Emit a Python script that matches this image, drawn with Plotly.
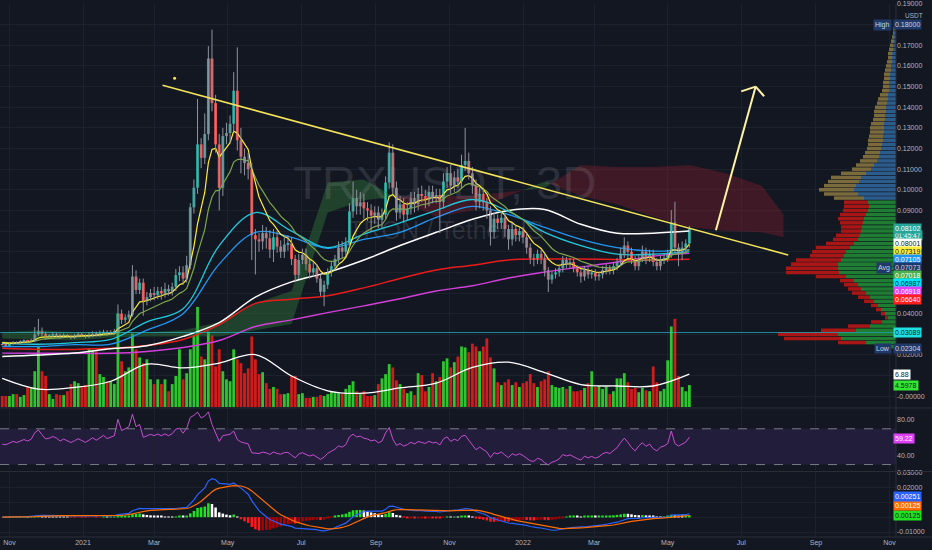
import numpy as np
import pandas as pd
import plotly.graph_objects as go

# ---------------- DATA ----------------
START = pd.Timestamp('2020-10-26')
STEP = pd.Timedelta(days=3)
first_open = 0.0252
closes = [0.0250, 0.0248, 0.0255, 0.0262, 0.0258, 0.0265, 0.0270, 0.0266, 0.0272, 0.0300,
          0.0315, 0.0302, 0.0290, 0.0293, 0.0300, 0.0296, 0.0288, 0.0295, 0.0290, 0.0286,
          0.0292, 0.0298, 0.0294, 0.0290, 0.0296, 0.0303, 0.0298, 0.0306, 0.0312, 0.0306,
          0.0310, 0.0314, 0.0400, 0.0370, 0.0382, 0.0395, 0.0580, 0.0515, 0.0550, 0.0460,
          0.0480, 0.0500, 0.0490, 0.0510, 0.0498, 0.0520, 0.0508, 0.0530, 0.0587, 0.0600,
          0.0570, 0.0635, 0.0915, 0.1010, 0.1220, 0.1155, 0.1270, 0.1636, 0.1420, 0.1220,
          0.1010, 0.1260, 0.1275, 0.1320, 0.1480, 0.1240, 0.1160, 0.1130, 0.1100, 0.0780,
          0.0760, 0.0750, 0.0790, 0.0765, 0.0710, 0.0770, 0.0725, 0.0700, 0.0735, 0.0740,
          0.0665, 0.0588, 0.0660, 0.0685, 0.0640, 0.0600, 0.0620, 0.0570, 0.0506, 0.0540,
          0.0600, 0.0630, 0.0665, 0.0720, 0.0700, 0.0740, 0.0895, 0.0960, 0.0920, 0.0940,
          0.0910, 0.0900, 0.0875, 0.0890, 0.0855, 0.0880, 0.1035, 0.1180, 0.1010, 0.0890,
          0.0930, 0.0880, 0.0910, 0.0960, 0.0930, 0.0980, 0.0970, 0.0950, 0.0990, 0.0965,
          0.0975, 0.0940, 0.1040, 0.1080, 0.1020, 0.1060, 0.1040, 0.1120, 0.1140, 0.1080,
          0.1020, 0.0940, 0.0980, 0.0940, 0.0900, 0.0795, 0.0860, 0.0840, 0.0865, 0.0810,
          0.0760, 0.0810, 0.0780, 0.0800, 0.0770, 0.0720, 0.0670, 0.0660, 0.0690, 0.0670,
          0.0610, 0.0565, 0.0590, 0.0600, 0.0620, 0.0660, 0.0640, 0.0650, 0.0620, 0.0600,
          0.0580, 0.0610, 0.0590, 0.0600, 0.0580, 0.0590, 0.0610, 0.0620, 0.0610, 0.0630,
          0.0650, 0.0690, 0.0730, 0.0700, 0.0660, 0.0630, 0.0670, 0.0700, 0.0670, 0.0690,
          0.0650, 0.0630, 0.0660, 0.0670, 0.0690, 0.0842, 0.0720, 0.0690, 0.0720, 0.0740,
          0.0810]
# wick lengths above max(open, close) and below min(open, close), in 0.001 USDT
up_wick = [0.4, 0.5, 0.6, 0.5, 0.4, 0.6, 0.5, 0.4, 0.6,
           3.5, 6.0, 1.8, 1.0,
           0.8, 1.0, 0.7, 0.8, 1.0, 0.7, 0.8, 1.0, 1.2, 0.8, 0.7, 1.5, 1.2, 1.0, 1.2, 1.0, 0.8, 1.0, 1.2,
           4.5, 2.0, 1.5, 2.0, 5.5, 3.0, 2.0, 2.0,
           2.5, 2.0, 3.0, 2.0, 2.0, 3.0, 2.0, 2.0,
           3.0, 3.0, 3.0, 4.5,
           2, 4, 22, 3, 10, 6, 14, 4, 5, 4, 5, 4, 9, 21, 6, 4, 5, 3,
           3, 3, 4, 3, 4, 4, 3, 3, 4, 4, 3, 2, 3, 3, 3, 2, 3, 2, 2, 2, 2, 2, 2, 3, 3, 3, 4, 8, 4, 5,
           4, 3, 3, 3, 3, 3, 3, 5, 4, 3, 4, 3, 3, 3, 3, 3, 4, 3, 3, 3, 3, 3, 4, 3, 4, 3, 4, 5, 16, 4,
           3, 3, 3, 3, 2, 2, 3, 2, 3, 2, 2, 3, 2, 2, 2, 2, 2, 2, 2, 2, 2, 1.5, 1.5, 2, 2, 2, 1.5, 2, 1.5, 1.5,
           1.5, 2, 1.5, 1.5, 1.5, 1.5, 2, 2, 1.5, 2, 2, 3, 4, 2, 2, 2, 2, 3, 2, 2, 2, 2, 2, 2, 2, 6, 10, 2, 3, 2, 1.5]
dn_wick = [0.4, 0.5, 0.4, 0.6, 0.5, 0.4, 0.5, 0.6, 0.4,
           1.0, 0.8, 1.2, 1.5,
           0.8, 0.6, 0.8, 1.0, 0.7, 0.8, 1.0, 0.8, 0.6, 0.8, 1.0, 0.8,
           1.0, 0.8, 1.0, 0.8, 1.2, 0.8, 1.0,
           1, 2, 1.5, 1, 1, 2, 2, 7,
           2, 2, 2.5, 2, 3, 2, 2, 2,
           2, 3, 3, 2,
           2, 3, 3, 5, 3, 3, 4, 4, 11, 4, 4, 5, 4, 5, 8, 6, 5, 12,
           17, 5, 4, 5, 4, 6, 3, 3, 3, 3, 3, 3, 2, 2, 3, 3, 2, 2, 2, 7, 2, 2, 2, 2, 3, 2, 2, 3, 4, 4,
           5, 5, 8, 4, 4, 4, 2, 3, 3, 4, 3, 4, 3, 3, 4, 3, 3, 4, 3, 3, 3, 15, 3, 3, 4, 3, 3, 3, 3, 3,
           4, 4, 3, 4, 4, 6.5, 3, 3, 3, 4, 5, 3, 3, 3, 3, 3, 3, 3, 2, 3, 3, 6, 2, 2, 2, 2, 2, 2, 2, 2,
           3, 2, 2, 2, 2, 2, 2, 2, 2, 2, 2, 2, 2, 3, 2, 2, 2, 2, 3, 2, 2, 2, 2, 2, 2, 2, 3, 6, 3, 2, 2]
volumes = [2.3, 2.3, 2.3, 2.7, 2.7, 2.1, 2.5, 4.2, 4.0, 7.5,
           12.7, 7.5, 6.5, 2.7, 1.7, 2.7, 2.5, 2.5, 3.3, 4.8,
           5.4, 5.0, 4.4, 4.6, 12.3, 11.9, 11.7, 6.9, 6.3, 5.4,
           5.4, 4.8, 19.6, 9.6, 7.5, 8.3, 15.4, 12.1, 10.4, 9.2,
           10.0, 5.8, 4.8, 5.8, 4.8, 5.8, 3.3, 4.8, 6.5, 12.1,
           5.8, 7.1, 12.1, 15.0, 21.0, 10.6, 10.0, 15.8, 15.0, 8.5,
           12.1, 7.5, 5.8, 5.4, 12.1, 10.0, 9.2, 7.1, 8.1, 14.8,
           10.0, 6.9, 7.3, 5.0, 3.8, 4.2, 3.8, 2.7, 2.7, 2.9,
           6.5, 6.5, 2.7, 2.9, 1.9, 1.9, 2.1, 2.1, 2.5, 2.3,
           2.7, 3.3, 2.9, 2.9, 2.7, 3.8, 4.6, 5.4, 3.3, 2.7,
           3.3, 2.3, 2.3, 2.5, 4.8, 6.0, 6.9, 9.0, 8.3, 5.6,
           4.8, 3.8, 2.9, 3.3, 2.5, 7.1, 6.7, 3.3, 4.2, 7.1,
           5.4, 6.3, 9.6, 10.2, 8.3, 9.4, 10.6, 12.7, 12.5, 11.5,
           13.3, 12.7, 11.7, 12.7, 14.4, 10.4, 8.1, 5.2, 4.6, 5.2,
           5.8, 4.6, 5.2, 4.2, 5.0, 5.4, 6.9, 5.0, 4.2, 5.4,
           5.8, 7.5, 4.6, 4.2, 4.0, 4.2, 3.8, 4.4, 3.3, 3.3,
           3.5, 4.0, 5.0, 7.5, 4.2, 4.4, 3.8, 4.2, 2.7, 3.3,
           6.0, 6.0, 7.1, 5.2, 3.8, 4.0, 3.1, 4.0, 3.5, 3.3,
           8.5, 5.2, 3.3, 3.8, 9.8, 16.9, 18.5, 6.5, 4.2, 3.3, 4.5978]

# moving averages read every 10th candle
MA_STEP = 10
white_ma = [0.0193, 0.0200, 0.0210, 0.0230, 0.0245, 0.0290, 0.0357, 0.0480, 0.0554, 0.0600,
            0.0660, 0.0730, 0.0794, 0.0857, 0.0900, 0.0905, 0.0833, 0.0790, 0.0790, 0.0800]
red_ma = [0.0233, 0.0227, 0.0227, 0.0232, 0.0246, 0.0275, 0.0347, 0.0450, 0.0470, 0.0487,
          0.0525, 0.0570, 0.0612, 0.0635, 0.0660, 0.0665, 0.0665, 0.0663, 0.0660, 0.0664]
magenta_ma = [0.0209, 0.0208, 0.0208, 0.0208, 0.0217, 0.0236, 0.0270, 0.0338, 0.0370, 0.0405,
              0.0438, 0.0472, 0.0510, 0.0535, 0.0573, 0.0602, 0.0626, 0.0650, 0.0679, 0.0692]
blue_ma = [0.0241, 0.0241, 0.0250, 0.0252, 0.0320, 0.0400, 0.0640, 0.0794, 0.0770, 0.0717,
           0.0760, 0.0794, 0.0866, 0.0920, 0.0880, 0.0818, 0.0760, 0.0720, 0.0703, 0.0710]
cyan_ma = [0.0256, 0.0252, 0.0260, 0.0275, 0.0360, 0.0424, 0.0730, 0.0890, 0.0800, 0.0720,
           0.0785, 0.0840, 0.0900, 0.0953, 0.0895, 0.0794, 0.0730, 0.0688, 0.0688, 0.0699]
yellow_len, yellow_seed = 8, 0.0262
olive_len, olive_seed = 16, 0.0262
vol_ma = [6.0, 3.75, 4.1, 5.4, 9.0, 8.2, 9.2, 11.0, 6.5, 3.4,
          2.9, 4.0, 5.0, 8.3, 9.4, 7.2, 4.7, 4.4, 4.4, 6.88]

# cloud spans (candle index, can run past the last candle)
cloud_idx = [0, 10, 20, 30, 40, 50, 60, 70, 80, 90, 100, 110, 120, 130, 140, 150, 160, 170, 180, 190, 200, 210, 216]
span_a = [0.031, 0.032, 0.031, 0.031, 0.031, 0.032, 0.036, 0.045, 0.051, 0.1035, 0.105, 0.095,
          0.087, 0.090, 0.097, 0.104, 0.097, 0.093, 0.087, 0.082, 0.080, 0.0795, 0.077]
span_b = [0.028, 0.0275, 0.027, 0.0285, 0.029, 0.029, 0.029, 0.032, 0.035, 0.089, 0.095, 0.097,
          0.097, 0.097, 0.099, 0.101, 0.112, 0.111, 0.111, 0.112, 0.108, 0.102, 0.088]

# visible range volume profile
PROF_LOW, PROF_BIN, PROF_VA_TOP = 0.024, 0.002, 0.0955
prof_total = [15, 58, 112, 118, 75, 48, 25, 11, 15, 20, 25, 32, 38, 44, 48, 52, 56, 80, 110, 110,
              105, 100, 86, 84, 80, 70, 63, 60, 55, 55, 56, 58, 56, 53, 52, 52, 62, 72, 77, 72,
              68, 65, 55, 44, 40, 36, 33, 31, 29, 28, 28, 27, 26, 26, 25, 23, 22, 22, 21, 19,
              18, 16, 14, 13, 13, 12, 12, 11, 10, 9, 8, 8, 7, 6, 5, 4, 3, 3, 2]
prof_up = [8, 30, 55, 58, 40, 26, 14, 8, 11, 15, 18, 22, 26, 30, 35, 38, 42, 50, 57, 58,
           58, 55, 52, 50, 46, 42, 38, 36, 35, 34, 33, 32, 30, 28, 27, 28, 32, 38, 42, 40,
           37, 35, 30, 25, 22, 19, 17, 16, 15, 14, 13, 13, 12, 12, 12, 11, 11, 10, 10, 9,
           8, 8, 7, 7, 7, 6, 6, 5, 5, 4, 4, 4, 3, 3, 2, 2, 2, 1, 1]

# drawings
trend_start, trend_end = ('2021-03-08', 0.1506), ('2022-08-09', 0.0684)
arrow_tail, arrow_tip = ('2022-06-10', 0.0804), ('2022-07-13', 0.1500)
arrow_head_l, arrow_head_r = ('2022-07-01', 0.1477), ('2022-07-20', 0.1453)
hline_price = 0.03089
dot_point = ('2021-03-18', 0.154)

# last-value labels on the price scale
last_price, countdown = 0.08102, '01:45:47'
price_labels = [("0.08001", 0.08001, '#ffffff', '#131722'),
                ("0.07319", 0.07319, '#ffeb3b', '#131722'),
                ("0.07105", 0.07105, '#2196f3', '#ffffff'),
                ("0.07073", 0.07073, '#1f3a68', '#d1d4dc'),
                ("0.07018", 0.07018, '#4caf50', '#ffffff'),
                ("0.06987", 0.06987, '#00e5ff', '#131722'),
                ("0.06918", 0.06918, '#e040fb', '#ffffff'),
                ("0.06640", 0.06640, '#ff1f1f', '#ffffff')]
high_val, low_val = 0.18000, 0.02304
vol_last, vol_ma_last = 4.5978, 6.88
rsi_last = 59.22
macd_labels = [("0.00125", 0.00125, '#22e022', '#131722'),
               ("0.00125", 0.00125, '#ff6d00', '#ffffff'),
               ("0.00251", 0.00251, '#2962ff', '#ffffff')]

month_ticks = ['2020-11-01', '2021-01-01', '2021-03-01', '2021-05-01', '2021-07-01', '2021-09-01',
               '2021-11-01', '2022-01-01', '2022-03-01', '2022-05-01', '2022-07-01', '2022-09-01', '2022-11-01']
month_text = ['Nov', '2021', 'Mar', 'May', 'Jul', 'Sep', 'Nov', '2022', 'Mar', 'May', 'Jul', 'Sep', 'Nov']

# price-scale ticks whose text is hidden under a value label in the reference
hidden_price_ticks = [0.18, 0.08, 0.07, 0.06, 0.05, 0.03, 0.01]
hidden_macd_ticks = [0.0, 0.01]

# ---------------- LAYOUT GEOMETRY ----------------
W, H = 932, 550
M_R, M_B = 36, 13
PLOT_W, PLOT_H = W - M_R, H - M_B
PRICE_H = 406
P_TOP = 0.19
P_BOT = 0.09 - (PRICE_H - 208) / 2080.0
PX_PER_PRICE = PRICE_H / (P_TOP - P_BOT)
VOL_PX = 4.8
RSI_TOP, RSI_BOT = 408, 470
MACD_TOP = 472
RSI_RANGE = [80 - (RSI_BOT - 419) / 0.9, 80 + (419 - RSI_TOP) / 0.9]
MACD_RANGE = [-(PLOT_H - 517) / 1500.0, (517 - MACD_TOP) / 1500.0]
X0 = pd.Timestamp('2021-01-01') - pd.Timedelta(days=68.85)
X1 = pd.Timestamp('2021-01-01') + pd.Timedelta(days=674.4)

BG = '#131722'
GRID = '#1d212d'
TXT = '#b2b5be'
FONT = 'Liberation Sans, Arial, sans-serif'

# ---------------- DERIVED ----------------
n = len(closes)
dates = [START + STEP * i for i in range(n)]
c = np.array(closes)
o = np.concatenate([[first_open], c[:-1]])
hi = np.maximum(o, c) + np.array(up_wick) / 1000.0
lo = np.minimum(o, c) - np.array(dn_wick) / 1000.0
up = c >= o


def ema(vals, length, seed):
    a = 2.0 / (length + 1)
    e, out = seed, []
    for v in vals:
        e = e + a * (v - e)
        out.append(e)
    return np.array(out)


yellow = ema(c, yellow_len, yellow_seed)
olive = ema(c, olive_len, olive_seed)

# RSI (Wilder, 14)
diff = np.diff(c, prepend=first_open)
ag, al = 0.0008, 0.0007
rsi = []
for d in diff:
    ag = (ag * 13 + max(d, 0)) / 14
    al = (al * 13 + max(-d, 0)) / 14
    rsi.append(100 - 100 / (1 + ag / al))
rsi = np.array(rsi)

# MACD 12/26/9
macd = ema(c, 12, c[0]) - ema(c, 26, c[0])
signal = ema(macd, 9, 0.0)
hist = macd - signal
hist_colors = []
for i, h in enumerate(hist):
    prev = hist[i - 1] if i else 0
    if h >= 0:
        hist_colors.append('#22e022' if h >= prev else '#ffffff')
    else:
        hist_colors.append('#ff1a1a' if h <= prev else '#b00000')

ma_dates = dates[::MA_STEP]

fig = go.Figure()

# ---- cloud ----
t = np.array(cloud_idx, float)
A = np.array(span_a)
B = np.array(span_b)
pts = []
for j in range(len(t)):
    if j > 0:
        d0, d1 = A[j - 1] - B[j - 1], A[j] - B[j]
        if d0 * d1 < 0:
            f = d0 / (d0 - d1)
            vc = A[j - 1] + f * (A[j] - A[j - 1])
            pts.append((t[j - 1] + f * (t[j] - t[j - 1]), vc, vc, True))
    pts.append((t[j], A[j], B[j], False))
runs, cur = [], []
for p in pts:
    cur.append(p)
    if p[3]:
        runs.append(cur)
        cur = [p]
runs.append(cur)
for r in runs:
    s = sum(p[1] - p[2] for p in r)
    col = 'rgba(56,142,60,0.36)' if s >= 0 else 'rgba(160,30,45,0.32)'
    xs = [START + pd.Timedelta(days=3 * p[0]) for p in r]
    fig.add_trace(go.Scatter(x=xs + xs[::-1], y=[p[1] for p in r] + [p[2] for p in r][::-1],
                             fill='toself', fillcolor=col, line=dict(width=0), mode='lines',
                             hoverinfo='skip', showlegend=False))

# ---- watermark ----
fig.add_trace(go.Scatter(x=[pd.Timestamp('2021-10-28')], y=[0.1014], mode='text', text=['TRXUSDT, 3D'],
                         textfont=dict(size=47, color='rgba(178,181,190,0.17)', family=FONT),
                         hoverinfo='skip', showlegend=False))
fig.add_trace(go.Scatter(x=[pd.Timestamp('2021-10-29')], y=[0.0790], mode='text', text=['TRON / TetherUS'],
                         textfont=dict(size=25, color='rgba(178,181,190,0.17)', family=FONT),
                         hoverinfo='skip', showlegend=False))

# ---- volume (overlay scale on the price pane) ----
vk = VOL_PX / PX_PER_PRICE
fig.add_trace(go.Bar(x=dates, y=np.array(volumes) * vk, base=P_BOT,
                     marker=dict(color=['#2ec52e' if u else '#cf1d1d' for u in up], line=dict(width=0)),
                     width=3 * 86400000 * 0.78, hoverinfo='skip', showlegend=False))
fig.add_trace(go.Scatter(x=ma_dates, y=P_BOT + np.array(vol_ma) * vk, mode='lines',
                         line=dict(color='#ffffff', width=1.3, shape='spline'), hoverinfo='skip', showlegend=False))

# ---- moving averages ----
for vals, col, wdt in [(magenta_ma, '#d33fd9', 1.4), (red_ma, '#e91c1c', 1.5), (white_ma, '#ffffff', 1.5),
                       (blue_ma, '#2196f3', 1.3), (cyan_ma, '#1fc8dc', 1.3)]:
    fig.add_trace(go.Scatter(x=ma_dates, y=vals, mode='lines', line=dict(color=col, width=wdt, shape='spline'),
                             hoverinfo='skip', showlegend=False))
fig.add_trace(go.Scatter(x=dates, y=olive, mode='lines', line=dict(color='#7fa64a', width=1.2),
                         hoverinfo='skip', showlegend=False))
fig.add_trace(go.Scatter(x=dates, y=yellow, mode='lines', line=dict(color='#ffeb3b', width=1.2),
                         hoverinfo='skip', showlegend=False))

# ---- candles ----
wx, wy = [], []
for d, h_, l_ in zip(dates, hi, lo):
    wx += [d, d, None]
    wy += [l_, h_, None]
fig.add_trace(go.Scatter(x=wx, y=wy, mode='lines', line=dict(color='#8f939e', width=1),
                         hoverinfo='skip', showlegend=False))
body = np.maximum(np.abs(c - o), 0.0003)
fig.add_trace(go.Bar(x=dates, y=body, base=np.minimum(o, c),
                     marker=dict(color=['#26a69a' if u else '#ef5350' for u in up], line=dict(width=0)),
                     width=3 * 86400000 * 0.8, hoverinfo='skip', showlegend=False))

# ---- volume profile ----
pp = PROF_LOW + PROF_BIN * np.arange(len(prof_total))
pu = np.array(prof_up, float)
pd_ = np.array(prof_total, float) - pu
va = pp < PROF_VA_TOP
fig.add_trace(go.Bar(y=pp, x=pu, base=0, orientation='h', xaxis='x2', yaxis='y',
                     width=PROF_BIN * 0.85,
                     marker=dict(color=['#1e7d32' if v else '#2b5c8c' for v in va], line=dict(width=0)),
                     hoverinfo='skip', showlegend=False))
fig.add_trace(go.Bar(y=pp, x=pd_, base=pu, orientation='h', xaxis='x2', yaxis='y',
                     width=PROF_BIN * 0.85,
                     marker=dict(color=['#a81616' if v else '#7a6a3c' for v in va], line=dict(width=0)),
                     hoverinfo='skip', showlegend=False))

fig.add_trace(go.Scatter(x=[dot_point[0]], y=[dot_point[1]], mode='markers',
                         marker=dict(color='#ffeb3b', size=3), hoverinfo='skip', showlegend=False))

# ---- RSI ----
fig.add_trace(go.Scatter(x=dates, y=rsi, yaxis='y2', mode='lines', line=dict(color='#c64fcf', width=1),
                         hoverinfo='skip', showlegend=False))

# ---- MACD ----
fig.add_trace(go.Bar(x=dates, y=hist, yaxis='y3', marker=dict(color=hist_colors, line=dict(width=0)),
                     width=3 * 86400000 * 0.7, hoverinfo='skip', showlegend=False))
fig.add_trace(go.Scatter(x=dates, y=macd, yaxis='y3', mode='lines', line=dict(color='#2962ff', width=1.2),
                         hoverinfo='skip', showlegend=False))
fig.add_trace(go.Scatter(x=dates, y=signal, yaxis='y3', mode='lines', line=dict(color='#ff6d00', width=1.2),
                         hoverinfo='skip', showlegend=False))

# ---------------- SHAPES ----------------
shapes = []
shapes.append(dict(type='rect', xref='paper', yref='y2', x0=0, x1=1, y0=30, y1=70,
                   fillcolor='rgba(126,60,200,0.16)', line=dict(width=0), layer='between'))
for lv in (70, 30):
    shapes.append(dict(type='line', xref='paper', yref='y2', x0=0, x1=1, y0=lv, y1=lv,
                       line=dict(color='#787b86', width=1, dash='dash')))
shapes.append(dict(type='line', xref='paper', yref='y', x0=0, x1=1, y0=hline_price, y1=hline_price,
                   line=dict(color='rgba(38,198,218,0.65)', width=1)))
shapes.append(dict(type='line', xref='x', yref='y', x0=trend_start[0], y0=trend_start[1],
                   x1=trend_end[0], y1=trend_end[1], line=dict(color='#f2e35a', width=1.6)))
shapes.append(dict(type='line', xref='x', yref='y', x0=arrow_tail[0], y0=arrow_tail[1],
                   x1=arrow_tip[0], y1=arrow_tip[1], line=dict(color='#fff3a6', width=2)))
for hd in (arrow_head_l, arrow_head_r):
    shapes.append(dict(type='line', xref='x', yref='y', x0=hd[0], y0=hd[1],
                       x1=arrow_tip[0], y1=arrow_tip[1], line=dict(color='#fff3a6', width=2)))
for py in (RSI_TOP - 1, MACD_TOP - 1):
    yy = 1 - py / PLOT_H
    shapes.append(dict(type='line', xref='paper', yref='paper', x0=0, x1=W / PLOT_W, y0=yy, y1=yy,
                       line=dict(color='#2a2e39', width=1)))
shapes.append(dict(type='line', xref='paper', yref='paper', x0=1, x1=1, y0=0, y1=1,
                   line=dict(color='#2a2e39', width=1)))
shapes.append(dict(type='line', xref='paper', yref='paper', x0=0, x1=W / PLOT_W, y0=0, y1=0,
                   line=dict(color='#2a2e39', width=1)))

# ---------------- LABELS ----------------
ann = []


def py_price(v):
    return (P_TOP - v) * PX_PER_PRICE


def box(text, py, bg, fg, xanchor='left', xshift=-3, yanchor='middle', size=7):
    ann.append(dict(xref='paper', yref='paper', x=1, y=1 - py / PLOT_H, text=text, showarrow=False,
                    xanchor=xanchor, yanchor=yanchor, xshift=xshift, bgcolor=bg, borderpad=1,
                    font=dict(size=size, color=fg, family=FONT)))


# last price box with its countdown row underneath (one teal block)
lp = py_price(last_price)
box(countdown, lp + 6.5, '#26a69a', '#ffffff', size=6.5)
box(f'{last_price:.5f}', lp, '#26a69a', '#ffffff')
cur_bottom = lp + 11
for txt, v, bg, fg in price_labels:
    cen = max(py_price(v), cur_bottom + 4)
    box(txt, cen, bg, fg)
    cur_bottom = cen + 4
    if v == 0.07073:
        box('Avg', cen, '#1f3a68', '#d1d4dc', xanchor='right', xshift=-4)

box(f'{high_val:.5f}', py_price(high_val), '#1f3a68', '#d1d4dc')
box('High', py_price(high_val), '#1f3a68', '#d1d4dc', xanchor='right', xshift=-4)
box(f'{low_val:.5f}', py_price(low_val), '#1f3a68', '#d1d4dc')
box('Low', py_price(low_val), '#1f3a68', '#d1d4dc', xanchor='right', xshift=-4)
box(f'{hline_price:.5f}', py_price(hline_price), '#1fe0e0', '#131722')
box(f'{vol_ma_last:.2f}', PRICE_H - vol_ma_last * VOL_PX, '#ffffff', '#131722')
box(f'{vol_last:.4f}', PRICE_H - vol_last * VOL_PX, '#33e633', '#131722')
box(f'{rsi_last:.2f}', 419 + (80 - rsi_last) * 0.9, '#e040fb', '#ffffff')
pos = 1e9
for txt, v, bg, fg in macd_labels:
    cen = min(517 - v * 1500, pos - 9.5)
    box(txt, cen, bg, fg)
    pos = cen
ann.append(dict(xref='paper', yref='paper', x=1 + 18 / PLOT_W, y=1 - 12 / PLOT_H, text='USDT',
                showarrow=False, xanchor='center', yanchor='middle',
                font=dict(size=6.5, color=TXT, family=FONT)))

price_ticks = [round(0.01 * k, 2) for k in range(0, 20)]
price_text = []
for v in price_ticks:
    if v == 0:
        price_text.append('-0.00000')
    elif any(abs(v - h) < 1e-9 for h in hidden_price_ticks):
        price_text.append('')
    else:
        price_text.append(f'{v:.5f}')
macd_ticks = [-0.01, 0.0, 0.01, 0.02, 0.03]
macd_text = ['' if any(abs(v - h) < 1e-9 for h in hidden_macd_ticks) else f'{v:.5f}' for v in macd_ticks]

axis_font = dict(size=7, color=TXT, family=FONT)
fig.update_layout(
    width=W, height=H, margin=dict(l=0, r=M_R, t=0, b=M_B),
    paper_bgcolor=BG, plot_bgcolor=BG, barmode='overlay', showlegend=False,
    shapes=shapes, annotations=ann,
    xaxis=dict(type='date', range=[X0, X1], anchor='y3', domain=[0, 1], tickvals=month_ticks, ticktext=month_text,
               showgrid=True, gridcolor=GRID, gridwidth=1, zeroline=False, showline=False, ticks='',
               tickfont=axis_font, fixedrange=True),
    xaxis2=dict(overlaying='x', range=[PLOT_W, 0], visible=False, anchor='y', fixedrange=True),
    yaxis=dict(domain=[1 - PRICE_H / PLOT_H, 1], range=[P_BOT, P_TOP], side='right', anchor='x',
               tickvals=price_ticks, ticktext=price_text, showgrid=True, gridcolor=GRID, zeroline=False,
               showline=False, ticks='', tickfont=axis_font, fixedrange=True),
    yaxis2=dict(domain=[1 - RSI_BOT / PLOT_H, 1 - RSI_TOP / PLOT_H], range=RSI_RANGE, side='right', anchor='x',
                tickvals=[40, 80], ticktext=['40.00', '80.00'], showgrid=False, zeroline=False,
                ticks='', tickfont=axis_font, fixedrange=True),
    yaxis3=dict(domain=[0, 1 - MACD_TOP / PLOT_H], range=MACD_RANGE, side='right', anchor='x',
                tickvals=macd_ticks, ticktext=macd_text,
                showgrid=True, gridcolor=GRID, zeroline=False, ticks='', tickfont=axis_font, fixedrange=True),
)

fig.write_html('out.html', config={'displayModeBar': False},
               post_script="document.body.style.margin='0';document.body.style.background='#131722';")
